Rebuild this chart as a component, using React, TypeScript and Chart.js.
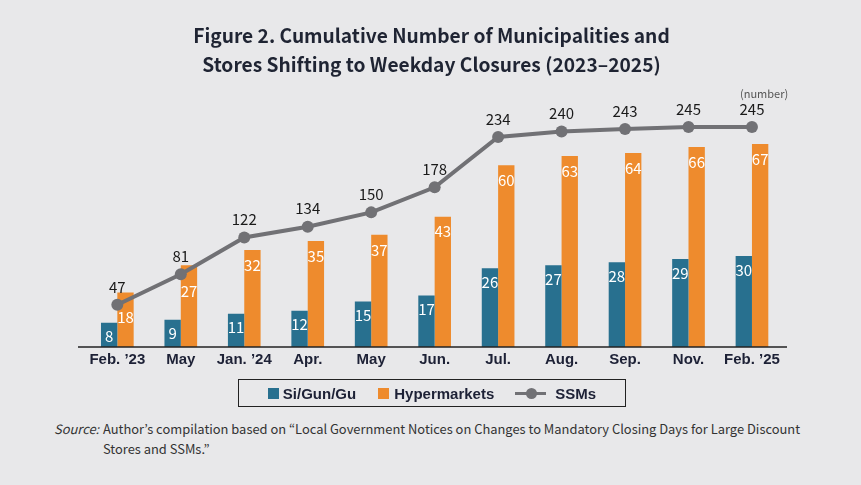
import { Chart, registerables } from 'chart.js';
import { useEffect, useRef } from 'react';

Chart.register(...registerables);

const categories = ['Feb. ’23', 'May', 'Jan. ’24', 'Apr.', 'May', 'Jun.', 'Jul.', 'Aug.', 'Sep.', 'Nov.', 'Feb. ’25'];
const siGunGu = [8, 9, 11, 12, 15, 17, 26, 27, 28, 29, 30];
const hypermarkets = [18, 27, 32, 35, 37, 43, 60, 63, 64, 66, 67];
const ssms = [47, 81, 122, 134, 150, 178, 234, 240, 243, 245, 245];

const BLUE = '#28708f';
const ORANGE = '#ee8b2d';
const GRAY = '#717175';
const BG = '#e8e8ea';
const INK = '#1d2136';
const CJK = '"Noto Sans CJK KR", "Noto Sans", sans-serif';
const SANS = '"Liberation Sans", Arial, sans-serif';

// label offsets below bar tops (px); first two orange labels sit lower to clear the line
const orangeOffset = (i: number) => (i === 0 ? 25 : i === 1 ? 26 : 15);
const blueOffset = 14;

const labelPlugin = {
    id: 'valueLabels',
    afterDatasetsDraw(chart: Chart) {
        const { ctx, chartArea } = chart;
        ctx.save();
        // baseline
        ctx.strokeStyle = '#222';
        ctx.lineWidth = 1.5;
        ctx.beginPath();
        ctx.moveTo(chartArea.left - 7.6, chartArea.bottom);
        ctx.lineTo(chartArea.right + 3.3, chartArea.bottom);
        ctx.stroke();

        ctx.font = `15px ${CJK}`;
        ctx.textAlign = 'center';
        ctx.textBaseline = 'middle';
        chart.data.datasets.forEach((ds, di) => {
            const meta = chart.getDatasetMeta(di);
            meta.data.forEach((el: any, i) => {
                const v = ds.data[i] as number;
                if (meta.type === 'bar') {
                    ctx.fillStyle = '#ffffff';
                    const off = di === 1 ? orangeOffset(i) : blueOffset;
                    ctx.fillText(String(v), el.x, el.y + off);
                } else {
                    ctx.fillStyle = '#1a1a1a';
                    ctx.fillText(String(v), el.x, el.y - 18);
                }
            });
        });
        ctx.restore();
    }
};

function ClosureChart() {
    const canvasRef = useRef<HTMLCanvasElement>(null);
    const chartRef = useRef<Chart | null>(null);

    useEffect(() => {
        if (!canvasRef.current) return;
        const ctx = canvasRef.current.getContext('2d');
        if (!ctx) return;
        if (chartRef.current) chartRef.current.destroy();

        chartRef.current = new Chart(ctx, {
            type: 'bar',
            data: {
                labels: categories,
                datasets: [
                    {
                        label: 'Si/Gun/Gu',
                        data: siGunGu,
                        backgroundColor: BLUE,
                        yAxisID: 'y',
                        order: 2,
                        categoryPercentage: 0.515,
                        barPercentage: 1
                    },
                    {
                        label: 'Hypermarkets',
                        data: hypermarkets,
                        backgroundColor: ORANGE,
                        yAxisID: 'y',
                        order: 2,
                        categoryPercentage: 0.515,
                        barPercentage: 1
                    },
                    {
                        type: 'line',
                        label: 'SSMs',
                        data: ssms,
                        borderColor: GRAY,
                        backgroundColor: GRAY,
                        borderWidth: 4,
                        pointRadius: 6,
                        pointBackgroundColor: GRAY,
                        pointBorderWidth: 0,
                        yAxisID: 'y2',
                        order: 1
                    } as any
                ]
            },
            options: {
                animation: false,
                responsive: false,
                layout: { padding: { top: 100, left: 85.6, right: 77.3, bottom: 7 } },
                plugins: {
                    legend: { display: false },
                    tooltip: { enabled: false },
                    title: { display: false }
                },
                scales: {
                    x: {
                        grid: { display: false, drawTicks: false },
                        border: { display: false },
                        ticks: {
                            padding: 4,
                            color: INK,
                            font: { family: SANS, size: 15, weight: 'bold' }
                        }
                    },
                    y: { display: false, min: 0, max: 81.5 },
                    y2: { display: false, min: 0, max: 275.2 }
                }
            },
            plugins: [labelPlugin]
        });

        return () => {
            if (chartRef.current) {
                chartRef.current.destroy();
                chartRef.current = null;
            }
        };
    }, []);

    return <canvas ref={canvasRef} width={861} height={380} style={{ position: 'absolute', left: 0, top: 0, width: 861, height: 380 }} />;
}

export default function App() {
    return (
        <div style={{ position: 'relative', width: 861, height: 485, background: BG, overflow: 'hidden', color: INK }}>
            <style>{'body{margin:0;background:' + BG + '}'}</style>
            <ClosureChart />
            <div style={{ position: 'absolute', left: 0, top: 21, width: 863, textAlign: 'center', fontFamily: CJK, fontWeight: 700, fontSize: 19.2, lineHeight: '29px', color: '#1f2433' }}>
                Figure 2. Cumulative Number of Municipalities and<br />Stores Shifting to Weekday Closures (2023–2025)
            </div>
            <div style={{ position: 'absolute', left: 740, top: 85, fontFamily: CJK, fontSize: 11, color: '#555', lineHeight: '16px' }}>(number)</div>
            <div style={{ position: 'absolute', left: 238, top: 379, width: 386, height: 26, border: '1px solid #222', display: 'flex', alignItems: 'center', justifyContent: 'center', fontFamily: SANS, fontWeight: 700, fontSize: 15, color: INK }}>
                <span style={{ width: 11, height: 11, background: BLUE, marginRight: 4 }} />
                <span style={{ marginRight: 22 }}>Si/Gun/Gu</span>
                <span style={{ width: 11, height: 11, background: ORANGE, marginRight: 5 }} />
                <span style={{ marginRight: 21 }}>Hypermarkets</span>
                <span style={{ position: 'relative', width: 31, height: 11, marginRight: 9 }}>
                    <span style={{ position: 'absolute', left: 0, top: 4, width: 31, height: 3, background: GRAY }} />
                    <span style={{ position: 'absolute', left: 10.5, top: 0, width: 11, height: 11, borderRadius: '50%', background: GRAY }} />
                </span>
                <span>SSMs</span>
            </div>
            <div style={{ position: 'absolute', left: 54, top: 419, fontFamily: CJK, fontSize: 12.9, lineHeight: '20px', color: '#333', display: 'flex' }}>
                <span style={{ fontStyle: 'italic', width: 49, flex: 'none' }}>Source:</span>
                <span>
                    Author’s compilation based on “Local Government Notices on Changes to Mandatory Closing Days for Large Discount<br />Stores and SSMs.”
                </span>
            </div>
        </div>
    );
}
